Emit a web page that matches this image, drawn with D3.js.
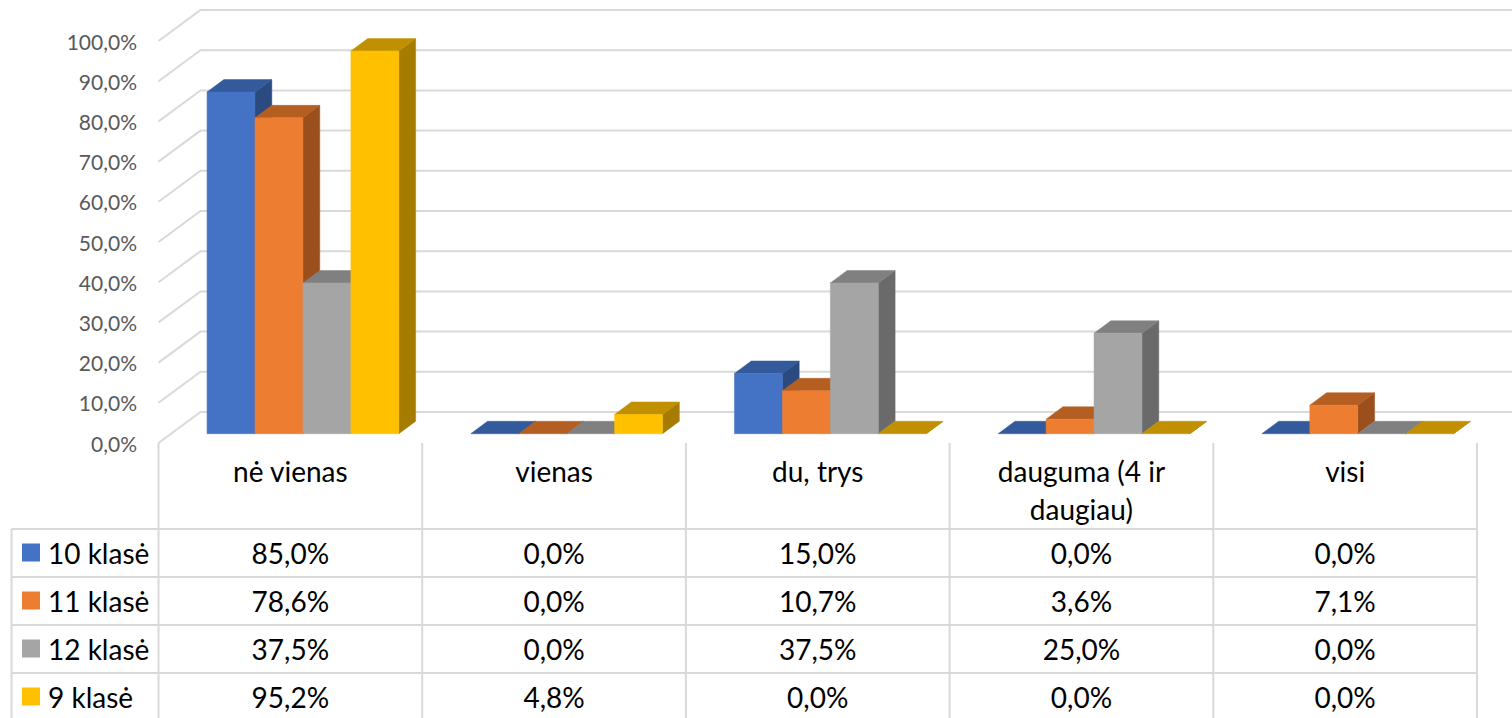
<!DOCTYPE html>
<html>
<head>
<meta charset="utf-8">
<script src="https://cdn.jsdelivr.net/npm/d3@7"></script>
<style>
  body { margin: 0; background: #fff; }
  svg { display: block; font-family: Lato, "Open Sans", sans-serif; }
</style>
</head>
<body>
<div id="chart"></div>
<script>
"use strict";

// Data
var categories = ["nė vienas", "vienas", "du, trys", "dauguma (4 ir daugiau)", "visi"];
var seriesNames = ["10 klasė", "11 klasė", "12 klasė", "9 klasė"];
var values10 = [85.0, 0.0, 15.0, 0.0, 0.0];
var values11 = [78.6, 0.0, 10.7, 3.6, 7.1];
var values12 = [37.5, 0.0, 37.5, 25.0, 0.0];
var values9 = [95.2, 4.8, 0.0, 0.0, 0.0];
var yTicks = [0, 10, 20, 30, 40, 50, 60, 70, 80, 90, 100];

var seriesValues = [values10, values11, values12, values9];

// Styles
var frontColors = ["#4472C4", "#ED7D31", "#A5A5A5", "#FFC000"];
var topColors = ["#335A9A", "#B45E22", "#808080", "#C09000"];
var sideColors = ["#2A4A80", "#9A4F1D", "#6A6A6A", "#A67C00"];
var GRID = "#d9d9d9";

var WIDTH = 1512, HEIGHT = 718;
var X0 = 158.5, X1 = 1477;   // front plane of the plot
var BASE_Y = 443;            // front floor line
var DX = 42, DY = 31;        // full depth offset
var D_FRONT = 0.3, D_BACK = 0.7;
var ROW_TOP = 529, ROW_H = 48;
var TABLE_LEFT = 11.5;

var fmt = d3.formatLocale({ decimal: ",", thousands: " ", grouping: [3], currency: ["", ""] }).format(".1f");
function pct(v) { return fmt(v) + "%"; }

var svg = d3.select("#chart").append("svg")
    .attr("width", WIDTH)
    .attr("height", HEIGHT);

var xCat = d3.scaleBand().domain(categories).range([X0, X1]).padding(0);
var xSer = d3.scaleBand().domain(seriesNames).range([0, xCat.bandwidth()])
    .paddingInner(0).paddingOuter(0.75);
var yScale = d3.scaleLinear().domain([0, 100]).range([0, 402]);

// project a point: x on front plane, h height in px, d depth fraction
function P(x, h, d) {
    return [x + d * DX, BASE_Y - h - d * DY];
}

function poly(pts) {
    return "M" + pts.map(function (p) { return p[0] + "," + p[1]; }).join("L") + "Z";
}

// Walls: gridlines on back wall and side wall
var grid = svg.append("g").attr("class", "grid");
yTicks.forEach(function (t) {
    var h = yScale(t);
    var a = P(X0, h, 0), b = P(X0, h, 1), c = P(X1, h, 1);
    grid.append("path")
        .attr("d", "M" + a[0] + "," + a[1] + "L" + b[0] + "," + b[1] + "L" + c[0] + "," + c[1])
        .attr("fill", "none")
        .attr("stroke", GRID)
        .attr("stroke-width", 2);
});

// Y axis labels
svg.append("g").selectAll("text")
    .data(yTicks)
    .enter().append("text")
    .attr("x", 137)
    .attr("y", function (t) { return P(X0, yScale(t), 0)[1] + 8.5; })
    .attr("text-anchor", "end")
    .attr("fill", "#595959")
    .style("font-size", "21px")
    .text(function (t) { return pct(t); });

// Bars
var bars = svg.append("g").attr("class", "bars");
categories.forEach(function (cat, ci) {
    seriesNames.forEach(function (s, si) {
        var v = seriesValues[si][ci];
        var xl = xCat(cat) + xSer(s);
        var xr = xl + xSer.bandwidth();
        var h = yScale(v);
        var g = bars.append("g");
        g.append("path")
            .attr("d", poly([P(xr, 0, D_FRONT), P(xr, 0, D_BACK), P(xr, h, D_BACK), P(xr, h, D_FRONT)]))
            .attr("fill", sideColors[si]).attr("stroke", sideColors[si]).attr("stroke-width", 0.5);
        g.append("path")
            .attr("d", poly([P(xl, h, D_FRONT), P(xr, h, D_FRONT), P(xr, h, D_BACK), P(xl, h, D_BACK)]))
            .attr("fill", topColors[si]).attr("stroke", topColors[si]).attr("stroke-width", 0.5);
        if (h > 0) {
            g.append("path")
                .attr("d", poly([P(xl, 0, D_FRONT), P(xr, 0, D_FRONT), P(xr, h, D_FRONT), P(xl, h, D_FRONT)]))
                .attr("fill", frontColors[si]).attr("stroke", frontColors[si]).attr("stroke-width", 0.5);
        }
    });
});

// Data table
var table = svg.append("g").attr("class", "table");
var nRows = seriesNames.length;
var tableBottom = ROW_TOP + ROW_H * nRows;

// vertical lines of category columns
d3.range(categories.length + 1).forEach(function (i) {
    var x = i < categories.length ? xCat(categories[i]) : X1;
    table.append("line")
        .attr("x1", x).attr("x2", x)
        .attr("y1", BASE_Y).attr("y2", tableBottom + 10)
        .attr("stroke", GRID).attr("stroke-width", 2);
});
// left border of legend column
table.append("line")
    .attr("x1", TABLE_LEFT).attr("x2", TABLE_LEFT)
    .attr("y1", ROW_TOP).attr("y2", tableBottom + 10)
    .attr("stroke", GRID).attr("stroke-width", 2);
// horizontal lines
d3.range(nRows + 1).forEach(function (r) {
    var y = ROW_TOP + r * ROW_H;
    table.append("line")
        .attr("x1", TABLE_LEFT).attr("x2", X1)
        .attr("y1", y).attr("y2", y)
        .attr("stroke", GRID).attr("stroke-width", 2);
});

// category headers (wrapped)
categories.forEach(function (cat) {
    var cx = xCat(cat) + xCat.bandwidth() / 2;
    var t = table.append("text")
        .attr("text-anchor", "middle")
        .attr("fill", "#000")
        .style("font-size", "28px");
    var words = cat.split(" ");
    var line = [];
    var lineNo = 0;
    var tspan = t.append("tspan").attr("x", cx).attr("y", 482);
    words.forEach(function (w) {
        line.push(w);
        tspan.text(line.join(" "));
        if (tspan.node().getComputedTextLength() > xCat.bandwidth() - 40 && line.length > 1) {
            line.pop();
            tspan.text(line.join(" "));
            line = [w];
            lineNo++;
            tspan = t.append("tspan").attr("x", cx).attr("y", 482 + lineNo * 38).text(w);
        }
    });
});

// rows: legend key, name, values
seriesNames.forEach(function (s, si) {
    var top = ROW_TOP + si * ROW_H;
    table.append("rect")
        .attr("x", 22).attr("y", top + 14.5)
        .attr("width", 18).attr("height", 18)
        .attr("fill", frontColors[si]);
    table.append("text")
        .attr("x", 48).attr("y", top + 34.5)
        .attr("fill", "#000")
        .style("font-size", "28px")
        .text(s);
    categories.forEach(function (cat, ci) {
        table.append("text")
            .attr("x", xCat(cat) + xCat.bandwidth() / 2)
            .attr("y", top + 34.5)
            .attr("text-anchor", "middle")
            .attr("fill", "#000")
            .style("font-size", "28px")
            .text(pct(seriesValues[si][ci]));
    });
});
</script>
</body>
</html>
